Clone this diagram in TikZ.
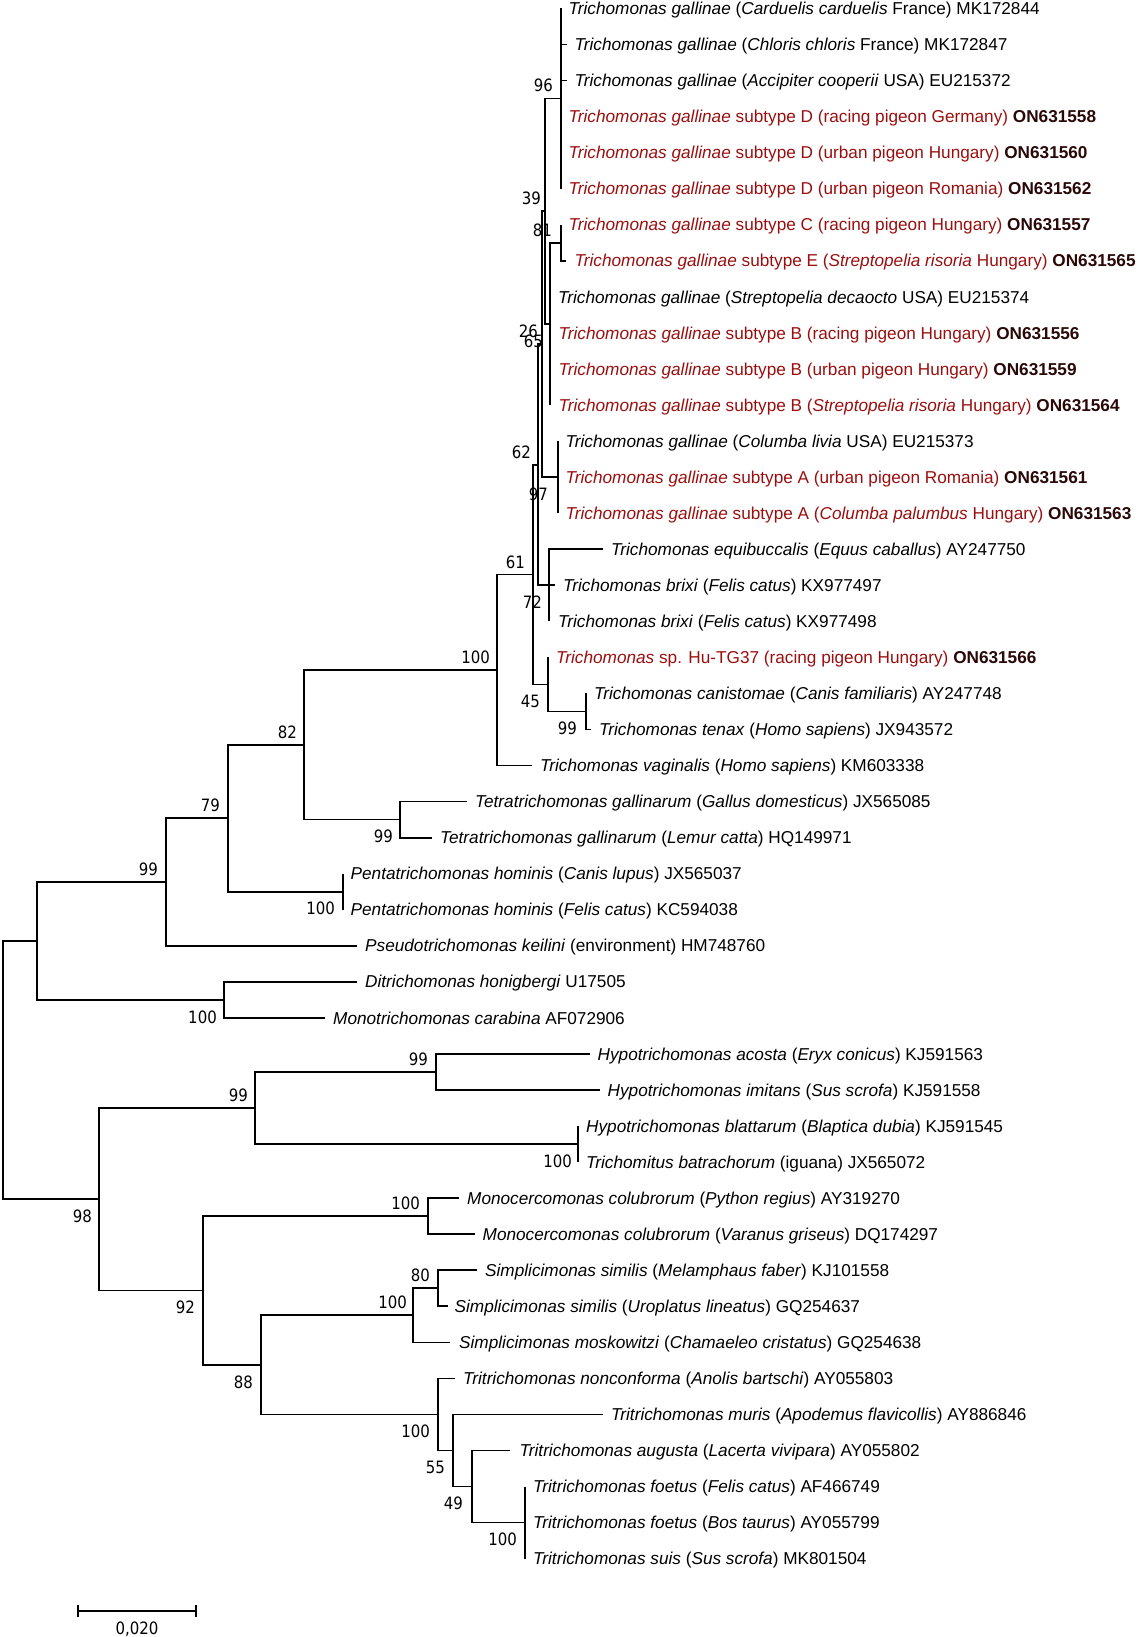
\documentclass[tikz,border=0pt]{standalone}
\usepackage{fontspec}
\setmainfont{Liberation Sans}
\newfontfamily\bsfont{DejaVu Sans}[FakeStretch=0.88]
\usetikzlibrary{calc}
\definecolor{tgred}{RGB}{155,14,14}
\definecolor{accc}{RGB}{42,8,8}
\newcommand{\acc}[1]{\textbf{\textcolor{accc}{#1}}}
\begin{document}
\begin{tikzpicture}[x=1pt,y=-1pt,
  br/.style={line width=1.7pt},
  lab/.style={anchor=base west, inner sep=0pt, font=\fontsize{17.2}{20}\selectfont},
  labr/.style={lab, text=tgred},
  bs/.style={anchor=base east, inner sep=0pt, font=\bsfont\fontsize{17}{20}\selectfont}]
\useasboundingbox (0,0) rectangle (1137,1637);
% leaf ends
\coordinate (L0) at (561,8.5);
\coordinate (L1) at (567,44.55);
\coordinate (L2) at (567,80.6);
\coordinate (L3) at (561,116.65);
\coordinate (L4) at (561,152.7);
\coordinate (L5) at (561,188.75);
\coordinate (L6) at (561,224.8);
\coordinate (L7) at (566,260.85);
\coordinate (L8) at (550,296.9);
\coordinate (L9) at (550,332.95);
\coordinate (L10) at (550,369.0);
\coordinate (L11) at (550,405.05);
\coordinate (L12) at (558,441.1);
\coordinate (L13) at (558,477.15);
\coordinate (L14) at (558,513.2);
\coordinate (L15) at (603,549.25);
\coordinate (L16) at (555,585.3);
\coordinate (L17) at (549,621.35);
\coordinate (L18) at (548,657.4);
\coordinate (L19) at (586,693.45);
\coordinate (L20) at (591,729.5);
\coordinate (L21) at (532,765.55);
\coordinate (L22) at (467,801.6);
\coordinate (L23) at (432,837.65);
\coordinate (L24) at (343,873.7);
\coordinate (L25) at (343,909.75);
\coordinate (L26) at (357,945.8);
\coordinate (L27) at (357,981.85);
\coordinate (L28) at (325,1017.9);
\coordinate (L29) at (590,1053.95);
\coordinate (L30) at (600,1090.0);
\coordinate (L31) at (578,1126.05);
\coordinate (L32) at (578,1162.1);
\coordinate (L33) at (459,1198.15);
\coordinate (L34) at (475,1234.2);
\coordinate (L35) at (477,1270.25);
\coordinate (L36) at (448,1306.3);
\coordinate (L37) at (450,1342.35);
\coordinate (L38) at (455,1378.4);
\coordinate (L39) at (603,1414.45);
\coordinate (L40) at (510,1450.5);
\coordinate (L41) at (525,1486.55);
\coordinate (L42) at (525,1522.6);
\coordinate (L43) at (525,1558.65);
% internal nodes
\coordinate (n96) at (561,98.6);
\coordinate (n81) at (561,242.8);
\coordinate (n65) at (550,323.9);
\coordinate (n39) at (545,211.3);
\coordinate (n97) at (558,477.15);
\coordinate (n26) at (542,344.2);
\coordinate (n72) at (549,585.3);
\coordinate (n62) at (538,464.75);
\coordinate (n99a) at (586,711.5);
\coordinate (n45) at (548,684.45);
\coordinate (n61) at (533,574.6);
\coordinate (n100a) at (497,670.1);
\coordinate (n99b) at (400,819.6);
\coordinate (n82) at (304,744.9);
\coordinate (n100b) at (343,891.7);
\coordinate (n79) at (228,818.3);
\coordinate (n99c) at (166,882.05);
\coordinate (n100c) at (224,999.9);
\coordinate (nA) at (37,941);
\coordinate (n99e) at (436,1072);
\coordinate (n100d) at (578,1144.1);
\coordinate (n99d) at (255,1108.05);
\coordinate (n100e) at (428,1216.2);
\coordinate (n80) at (438,1288.3);
\coordinate (n100f) at (413,1315.3);
\coordinate (n100h) at (525,1522.6);
\coordinate (n49) at (472,1486.55);
\coordinate (n55) at (453,1450.5);
\coordinate (n100g) at (438,1414.45);
\coordinate (n88) at (261,1364.9);
\coordinate (n92) at (203,1290.55);
\coordinate (n98) at (99,1199.3);
\coordinate (root) at (3,1070);
% branches
\draw[br] (L0) -| (n96) |- (L5);
\draw[br] (n96 |- L1) -- (L1);
\draw[br] (n96 |- L2) -- (L2);
\draw[br] (L6) -| (n81) |- (L7);
\draw[br] (n81) -| (n65) |- (L11);
\draw[br] (n96) -| (n39) |- (n65);
\draw[br] (L12) -| (n97) |- (L14);
\draw[br] (n39) -| (n26) |- (n97);
\draw[br] (L15) -| (n72) |- (L17);
\draw[br] (n72 |- L16) -- (L16);
\draw[br] (n26) -| (n62) |- (n72);
\draw[br] (L19) -| (n99a) |- (L20);
\draw[br] (L18) -| (n45) |- (n99a);
\draw[br] (n62) -| (n61) |- (n45);
\draw[br] (n61) -| (n100a) |- (L21);
\draw[br] (L22) -| (n99b) |- (L23);
\draw[br] (n100a) -| (n82) |- (n99b);
\draw[br] (L24) -| (n100b) |- (L25);
\draw[br] (n82) -| (n79) |- (n100b);
\draw[br] (n79) -| (n99c) |- (L26);
\draw[br] (L27) -| (n100c) |- (L28);
\draw[br] (n99c) -| (nA) |- (n100c);
\draw[br] (L29) -| (n99e) |- (L30);
\draw[br] (L31) -| (n100d) |- (L32);
\draw[br] (n99e) -| (n99d) |- (n100d);
\draw[br] (L33) -| (n100e) |- (L34);
\draw[br] (L35) -| (n80) |- (L36);
\draw[br] (n80) -| (n100f) |- (L37);
\draw[br] (L41) -| (n100h) |- (L43);
\draw[br] (L40) -| (n49) |- (n100h);
\draw[br] (L39) -| (n55) |- (n49);
\draw[br] (L38) -| (n100g) |- (n55);
\draw[br] (n100f) -| (n88) |- (n100g);
\draw[br] (n100e) -| (n92) |- (n88);
\draw[br] (n99d) -| (n98) |- (n92);
\draw[br] (nA) -| (root) |- (n98);
% leaf labels
\node[lab] (T0) at ($(L0)+(7.5,6.1)$) {\textit{Trichomonas gallinae} (\textit{Carduelis carduelis} France) MK172844};
\node[lab] (T1) at ($(L1)+(7.5,6.1)$) {\textit{Trichomonas gallinae} (\textit{Chloris chloris} France) MK172847};
\node[lab] (T2) at ($(L2)+(7.5,6.1)$) {\textit{Trichomonas gallinae} (\textit{Accipiter cooperii} USA) EU215372};
\node[labr] (T3) at ($(L3)+(7.5,6.1)$) {\textit{Trichomonas gallinae} subtype D (racing pigeon Germany) \acc{ON631558}};
\node[labr] (T4) at ($(L4)+(7.5,6.1)$) {\textit{Trichomonas gallinae} subtype D (urban pigeon Hungary) \acc{ON631560}};
\node[labr] (T5) at ($(L5)+(7.5,6.1)$) {\textit{Trichomonas gallinae} subtype D (urban pigeon Romania) \acc{ON631562}};
\node[labr] (T6) at ($(L6)+(7.5,6.1)$) {\textit{Trichomonas gallinae} subtype C (racing pigeon Hungary) \acc{ON631557}};
\node[labr] (T7) at ($(L7)+(8.5,6.1)$) {\textit{Trichomonas gallinae} subtype E (\textit{Streptopelia risoria} Hungary) \acc{ON631565}};
\node[lab] (T8) at ($(L8)+(8,6.1)$) {\textit{Trichomonas gallinae} (\textit{Streptopelia decaocto} USA) EU215374};
\node[labr] (T9) at ($(L9)+(8.5,6.1)$) {\textit{Trichomonas gallinae} subtype B (racing pigeon Hungary) \acc{ON631556}};
\node[labr] (T10) at ($(L10)+(8.5,6.1)$) {\textit{Trichomonas gallinae} subtype B (urban pigeon Hungary) \acc{ON631559}};
\node[labr] (T11) at ($(L11)+(8.5,6.1)$) {\textit{Trichomonas gallinae} subtype B (\textit{Streptopelia risoria} Hungary) \acc{ON631564}};
\node[lab] (T12) at ($(L12)+(7.5,6.1)$) {\textit{Trichomonas gallinae} (\textit{Columba livia} USA) EU215373};
\node[labr] (T13) at ($(L13)+(7.5,6.1)$) {\textit{Trichomonas gallinae} subtype A (urban pigeon Romania) \acc{ON631561}};
\node[labr] (T14) at ($(L14)+(7.5,6.1)$) {\textit{Trichomonas gallinae} subtype A (\textit{Columba palumbus} Hungary) \acc{ON631563}};
\node[lab] (T15) at ($(L15)+(8,6.1)$) {\textit{Trichomonas equibuccalis} (\textit{Equus caballus}) AY247750};
\node[lab] (T16) at ($(L16)+(8,6.1)$) {\textit{Trichomonas brixi} (\textit{Felis catus}) KX977497};
\node[lab] (T17) at ($(L17)+(9,6.1)$) {\textit{Trichomonas brixi} (\textit{Felis catus}) KX977498};
\node[labr] (T18) at ($(L18)+(8,6.1)$) {\textit{Trichomonas} sp. Hu-TG37 (racing pigeon Hungary) \acc{ON631566}};
\node[lab] (T19) at ($(L19)+(8,6.1)$) {\textit{Trichomonas canistomae} (\textit{Canis familiaris}) AY247748};
\node[lab] (T20) at ($(L20)+(8,6.1)$) {\textit{Trichomonas tenax} (\textit{Homo sapiens}) JX943572};
\node[lab] (T21) at ($(L21)+(8,6.1)$) {\textit{Trichomonas vaginalis} (\textit{Homo sapiens}) KM603338};
\node[lab] (T22) at ($(L22)+(8,6.1)$) {\textit{Tetratrichomonas gallinarum} (\textit{Gallus domesticus}) JX565085};
\node[lab] (T23) at ($(L23)+(8,6.1)$) {\textit{Tetratrichomonas gallinarum} (\textit{Lemur catta}) HQ149971};
\node[lab] (T24) at ($(L24)+(7.5,6.1)$) {\textit{Pentatrichomonas hominis} (\textit{Canis lupus}) JX565037};
\node[lab] (T25) at ($(L25)+(7.5,6.1)$) {\textit{Pentatrichomonas hominis} (\textit{Felis catus}) KC594038};
\node[lab] (T26) at ($(L26)+(8,6.1)$) {\textit{Pseudotrichomonas keilini} (environment) HM748760};
\node[lab] (T27) at ($(L27)+(8,6.1)$) {\textit{Ditrichomonas honigbergi} U17505};
\node[lab] (T28) at ($(L28)+(8,6.1)$) {\textit{Monotrichomonas carabina} AF072906};
\node[lab] (T29) at ($(L29)+(7.5,6.1)$) {\textit{Hypotrichomonas acosta} (\textit{Eryx conicus}) KJ591563};
\node[lab] (T30) at ($(L30)+(7.5,6.1)$) {\textit{Hypotrichomonas imitans} (\textit{Sus scrofa}) KJ591558};
\node[lab] (T31) at ($(L31)+(8,6.1)$) {\textit{Hypotrichomonas blattarum} (\textit{Blaptica dubia}) KJ591545};
\node[lab] (T32) at ($(L32)+(8,6.1)$) {\textit{Trichomitus batrachorum} (iguana) JX565072};
\node[lab] (T33) at ($(L33)+(8,6.1)$) {\textit{Monocercomonas colubrorum} (\textit{Python regius}) AY319270};
\node[lab] (T34) at ($(L34)+(7.5,6.1)$) {\textit{Monocercomonas colubrorum} (\textit{Varanus griseus}) DQ174297};
\node[lab] (T35) at ($(L35)+(8,6.1)$) {\textit{Simplicimonas similis} (\textit{Melamphaus faber}) KJ101558};
\node[lab] (T36) at ($(L36)+(6.5,6.1)$) {\textit{Simplicimonas similis} (\textit{Uroplatus lineatus}) GQ254637};
\node[lab] (T37) at ($(L37)+(9,6.1)$) {\textit{Simplicimonas moskowitzi} (\textit{Chamaeleo cristatus}) GQ254638};
\node[lab] (T38) at ($(L38)+(8,6.1)$) {\textit{Tritrichomonas nonconforma} (\textit{Anolis bartschi}) AY055803};
\node[lab] (T39) at ($(L39)+(8,6.1)$) {\textit{Tritrichomonas muris} (\textit{Apodemus flavicollis}) AY886846};
\node[lab] (T40) at ($(L40)+(9.5,6.1)$) {\textit{Tritrichomonas augusta} (\textit{Lacerta vivipara}) AY055802};
\node[lab] (T41) at ($(L41)+(8,6.1)$) {\textit{Tritrichomonas foetus} (\textit{Felis catus}) AF466749};
\node[lab] (T42) at ($(L42)+(8,6.1)$) {\textit{Tritrichomonas foetus} (\textit{Bos taurus}) AY055799};
\node[lab] (T43) at ($(L43)+(8,6.1)$) {\textit{Tritrichomonas suis} (\textit{Sus scrofa}) MK801504};
% bootstrap values
\node[bs] (B96) at ($(n96)+(-8,-6.6)$) {96};
\node[bs] (B39) at ($(n39)+(-4,-6.6)$) {39};
\node[bs] (B81) at ($(n81)+(-9,-6.6)$) {81};
\node[bs] (B26) at ($(n26)+(-4,-6.6)$) {26};
\node[bs] (B65) at ($(n65)+(-7,23.2)$) {65};
\node[bs] (B62) at ($(n62)+(-7,-6.6)$) {62};
\node[bs] (B97) at ($(n97)+(-10,23.2)$) {97};
\node[bs] (B61) at ($(n61)+(-8,-6.6)$) {61};
\node[bs] (B72) at ($(n72)+(-7,23.2)$) {72};
\node[bs] (B45) at ($(n45)+(-8,23.2)$) {45};
\node[bs] (B99a) at ($(n99a)+(-9,23.2)$) {99};
\node[bs] (B100a) at ($(n100a)+(-7,-6.6)$) {100};
\node[bs] (B82) at ($(n82)+(-7,-6.6)$) {82};
\node[bs] (B99b) at ($(n99b)+(-7,23.2)$) {99};
\node[bs] (B79) at ($(n79)+(-8,-6.6)$) {79};
\node[bs] (B100b) at ($(n100b)+(-8,23.2)$) {100};
\node[bs] (B99c) at ($(n99c)+(-8,-6.6)$) {99};
\node[bs] (B100c) at ($(n100c)+(-7,23.2)$) {100};
\node[bs] (B98) at ($(n98)+(-7,23.2)$) {98};
\node[bs] (B99d) at ($(n99d)+(-7,-6.6)$) {99};
\node[bs] (B99e) at ($(n99e)+(-8,-6.6)$) {99};
\node[bs] (B100d) at ($(n100d)+(-6,23.2)$) {100};
\node[bs] (B100e) at ($(n100e)+(-8,-6.6)$) {100};
\node[bs] (B92) at ($(n92)+(-8,23.2)$) {92};
\node[bs] (B88) at ($(n88)+(-8,23.2)$) {88};
\node[bs] (B100f) at ($(n100f)+(-6,-6.6)$) {100};
\node[bs] (B80) at ($(n80)+(-8,-6.6)$) {80};
\node[bs] (B100g) at ($(n100g)+(-8,23.2)$) {100};
\node[bs] (B55) at ($(n55)+(-8,23.2)$) {55};
\node[bs] (B49) at ($(n49)+(-9,23.2)$) {49};
\node[bs] (B100h) at ($(n100h)+(-8,23.2)$) {100};
% scale bar
\coordinate (sbL) at (78,1611);
\coordinate (sbR) at (196,1611);
\draw[br] (sbL) -- (sbR);
\draw[br] ($(sbL)+(0,-6)$) -- ($(sbL)+(0,6)$);
\draw[br] ($(sbR)+(0,-6)$) -- ($(sbR)+(0,6)$);
\node[bs, anchor=base] (sbT) at (137,1634.2) {0,020};
\end{tikzpicture}
\end{document}
